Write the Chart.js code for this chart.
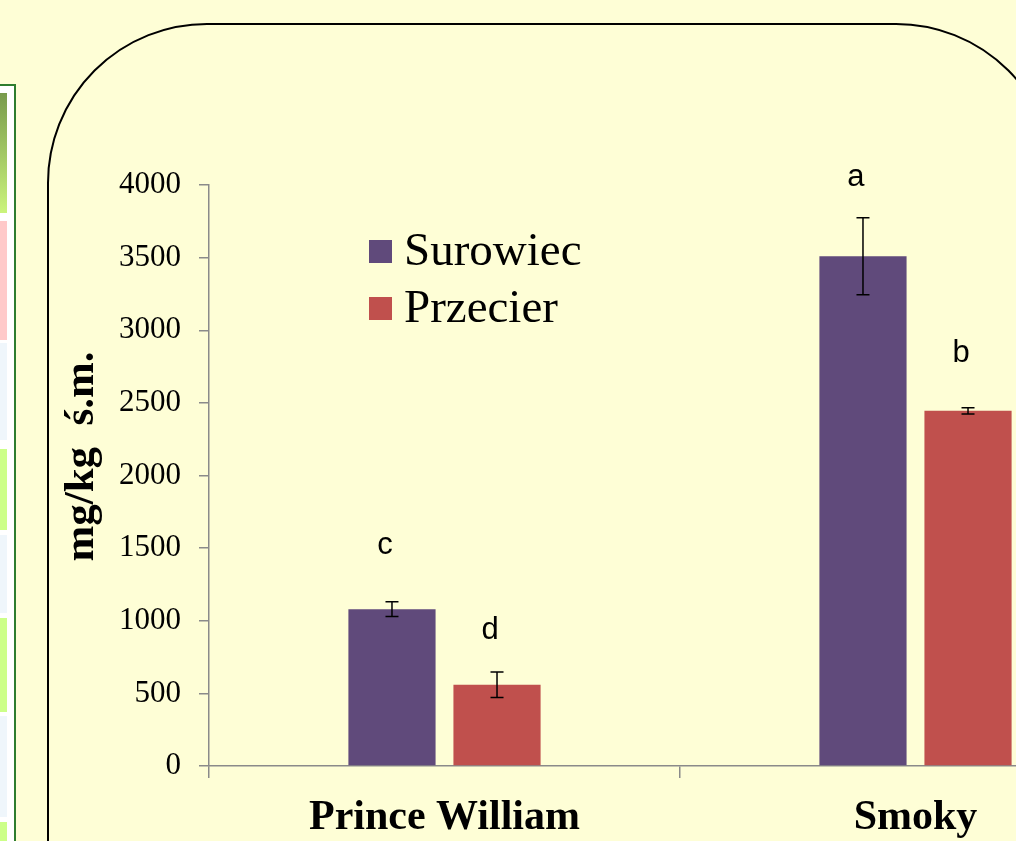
<!DOCTYPE html>
<html>
<head>
<meta charset="utf-8">
<script src="https://cdn.jsdelivr.net/npm/chart.js@4"></script>
<style>
  html, body { margin:0; padding:0; width:1016px; height:841px; overflow:hidden; background:#FEFED6; }
  #frame { position:absolute; left:47px; top:23px; width:1005px; height:1000px; border:2px solid #000; border-radius:160px; }
  #strip { position:absolute; left:0; top:84px; width:14px; height:800px; background:#fff; border-top:2px solid #2E7D2E; border-right:2px solid #2E7D2E; }
  .cell { position:absolute; left:0; width:7px; }
  #wrap { position:absolute; left:0; top:0; }
</style>
</head>
<body>
<div id="strip"></div>
<div id="frame"></div>
<div id="wrap"><canvas id="c" width="1160" height="841"></canvas></div>
<script>
// ---- data ----
const categories = ['Prince William', 'Smoky'];
const seriesNames = ['Surowiec', 'Przecier'];
const surowiec = [1080, 3510];
const przecier = [560, 2445];
const surowiecErr = [50, 265];
const przecierErr = [88, 22];
const surowiecLetters = ['c', 'a'];
const przecierLetters = ['d', 'b'];
const surowiecLetterY = [1515, 4055];
const przecierLetterY = [936, 2843];
const yTicks = [0, 500, 1000, 1500, 2000, 2500, 3000, 3500, 4000];
const yTitle = 'mg/kg  ś.m.';

// left decorative strip cells
const stripCells = [
  [93, 213, 'linear-gradient(#789A4C,#CBF47C)'],
  [221, 340, '#FFC9C9'],
  [343, 440, '#EFF6FB'],
  [449, 530, '#CCFF88'],
  [535, 613, '#EFF6FB'],
  [618, 712, '#CCFF88'],
  [716, 817, '#EFF6FB'],
  [822, 900, '#CCFF88']
];
const strip = document.getElementById('strip');
stripCells.forEach(([a, b, col]) => {
  const d = document.createElement('div');
  d.className = 'cell';
  d.style.top = (a - 86) + 'px';
  d.style.height = (b - a) + 'px';
  d.style.background = col;
  strip.appendChild(d);
});

const SERIF = "'Liberation Serif', 'Times New Roman', serif";
const SANS = "'Liberation Sans', Arial, sans-serif";
const colors = ['#604A7B', '#C0504D'];
const errs = [surowiecErr, przecierErr];
const letters = [surowiecLetters, przecierLetters];
const letterY = [surowiecLetterY, przecierLetterY];

const extras = {
  id: 'extras',
  afterDatasetsDraw(chart) {
    const ctx = chart.ctx;
    const y = chart.scales.y;
    const ca = chart.chartArea;
    ctx.save();
    // error bars + letters
    chart.data.datasets.forEach((ds, di) => {
      const meta = chart.getDatasetMeta(di);
      meta.data.forEach((bar, i) => {
        const v = ds.data[i], e = errs[di][i];
        const yt = y.getPixelForValue(v + e), yb = y.getPixelForValue(v - e);
        ctx.strokeStyle = '#000';
        ctx.lineWidth = 1.5;
        ctx.beginPath();
        ctx.moveTo(bar.x, yt); ctx.lineTo(bar.x, yb);
        ctx.moveTo(bar.x - 6.5, yt); ctx.lineTo(bar.x + 6.5, yt);
        ctx.moveTo(bar.x - 6.5, yb); ctx.lineTo(bar.x + 6.5, yb);
        ctx.stroke();
        ctx.fillStyle = '#000';
        ctx.font = '31px ' + SANS;
        ctx.textAlign = 'center';
        ctx.textBaseline = 'middle';
        ctx.fillText(letters[di][i], bar.x - 7, y.getPixelForValue(letterY[di][i]));
      });
    });
    // legend
    chart.data.datasets.forEach((ds, di) => {
      const bx = ca.left + 160, by = ca.top + 55 + di * 57;
      ctx.fillStyle = ds.backgroundColor;
      ctx.fillRect(bx, by, 23, 23);
      ctx.fillStyle = '#000';
      ctx.font = '47px ' + SERIF;
      ctx.textAlign = 'left';
      ctx.textBaseline = 'alphabetic';
      ctx.fillText(ds.label, bx + 35, by + 25);
    });
    // y title
    ctx.translate(ca.left - 127, (ca.top + ca.bottom) / 2 - 19);
    ctx.rotate(-Math.PI / 2);
    ctx.font = 'bold 43px ' + SERIF;
    ctx.textAlign = 'center';
    ctx.textBaseline = 'middle';
    ctx.fillStyle = '#000';
    ctx.fillText(yTitle, 0, 0);
    ctx.restore();
  }
};

new Chart(document.getElementById('c'), {
  type: 'bar',
  data: {
    labels: categories,
    datasets: [
      { label: seriesNames[0], data: surowiec, backgroundColor: colors[0], borderWidth: 0, barPercentage: 0.83, categoryPercentage: 0.446 },
      { label: seriesNames[1], data: przecier, backgroundColor: colors[1], borderWidth: 0, barPercentage: 0.83, categoryPercentage: 0.446 }
    ]
  },
  options: {
    responsive: false,
    animation: false,
    layout: { padding: { top: 185, left: 0, right: 9, bottom: 0 } },
    plugins: { legend: { display: false }, tooltip: { enabled: false } },
    scales: {
      x: {
        offset: true,
        grid: { offset: true, drawOnChartArea: false, drawTicks: true, tickLength: 12, color: '#8A8A8A', lineWidth: 1.5 },
        border: { display: true, color: '#8A8A8A', width: 1.5 },
        ticks: { color: '#000', font: { family: SERIF, size: 42, weight: 'bold' }, padding: 15, maxRotation: 0 },
        afterFit(s) { s.height = 75; }
      },
      y: {
        min: 0, max: 4000,
        afterBuildTicks(s) { s.ticks = yTicks.map(v => ({ value: v })); },
        grid: { drawOnChartArea: false, drawTicks: true, tickLength: 10, color: '#8A8A8A', lineWidth: 1.5 },
        border: { display: true, color: '#8A8A8A', width: 1.5 },
        ticks: { color: '#000', font: { family: SERIF, size: 31 }, padding: 18, callback: v => String(v) },
        afterFit(s) { s.width = 209; }
      }
    }
  },
  plugins: [extras]
});
</script>
</body>
</html>
